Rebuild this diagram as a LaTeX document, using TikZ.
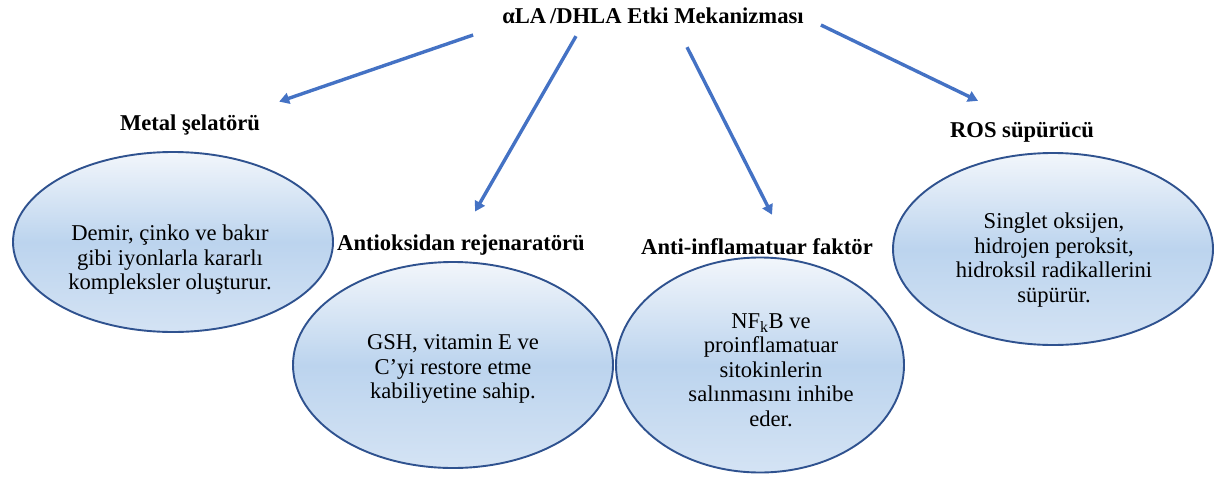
\documentclass[tikz,border=0pt]{standalone}
\usepackage{fontspec}
\setmainfont{Liberation Serif}
\usetikzlibrary{arrows.meta, positioning, shapes.geometric, calc}

\begin{document}
\begin{tikzpicture}[x=1pt, y=-1pt,
    blob/.style={ellipse, draw=blobline, line width=1.9pt, top color=blobtop, bottom color=blobbot, middle color=blobmid, inner sep=0pt},
    headtext/.style={font=\fontsize{22.6}{24}\selectfont\bfseries, inner sep=0pt},
    bodytext/.style={font=\fontsize{22.6}{24.5}\selectfont, align=center, inner sep=0pt},
    arrow/.style={-{Triangle[length=10pt, width=11pt]}, line width=3.4pt, draw=arrowblue}]

    % Define colors
    \definecolor{arrowblue}{HTML}{4472C4}
    \definecolor{blobline}{HTML}{2F528F}
    \definecolor{blobtop}{HTML}{F2F6FB}
    \definecolor{blobmid}{HTML}{BCD4EE}
    \definecolor{blobbot}{HTML}{D4E3F4}

    \useasboundingbox (0,0) rectangle (1220,482);

    % Ellipses
    \node[blob, minimum width=320pt, minimum height=180pt] (chel) at (173,242) {};
    \node[blob, minimum width=320pt, minimum height=206pt] (regen) at (453,365) {};
    \node[blob, minimum width=288pt, minimum height=215pt] (infl) at (760,365) {};
    \node[blob, minimum width=320pt, minimum height=192pt] (ros) at (1053,249) {};

    % Headings
    \node[headtext] (title) at (653,16) {αLA\,/DHLA Etki Mekanizması};
    \node[headtext] (metal) at (190,125) {Metal şelatörü};
    \node[headtext] (antiox) at (461,245) {Antioksidan rejenaratörü};
    \node[headtext] (antiinf) at (757,247) {Anti-inflamatuar faktör};
    \node[headtext] (roshead) at (1022,132) {ROS süpürücü};

    % Texts inside the ellipses
    \node[bodytext] (chelbody) at (170,260) {Demir, çinko ve bakır\\gibi iyonlarla kararlı\\kompleksler oluşturur.};
    \node[bodytext] (regenbody) at (453,369) {GSH, vitamin E ve\\C’yi restore etme\\kabiliyetine sahip.};
    \node[bodytext] (inflbody) at (771,370) {NF\textsubscript{k}B ve\\proinflamatuar\\sitokinlerin\\salınmasını inhibe\\eder.};
    \node[bodytext] (rosbody) at (1054,260) {Singlet oksijen,\\hidrojen peroksit,\\hidroksil radikallerini\\süpürür.};

    % Arrows from the title
    \draw[arrow] ([shift={(-29,19)}]title.west) -- ([shift={(19,-13)}]metal.north east);
    \draw[arrow] ([shift={(-77,12)}]title.south) -- ([shift={(14,-23)}]antiox.north);
    \draw[arrow] ([shift={(34,23)}]title.south) -- ([shift={(15,-24)}]antiinf.north);
    \draw[arrow] ([shift={(17,9)}]title.east) -- ([shift={(-44,-21)}]roshead.north);

\end{tikzpicture}
\end{document}
